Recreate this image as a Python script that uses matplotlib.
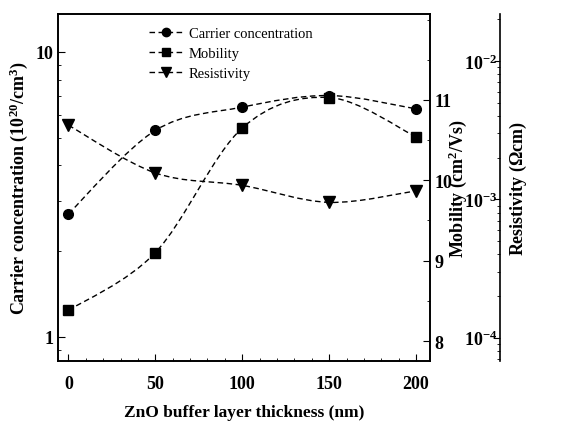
import numpy as np
import matplotlib
matplotlib.use("Agg")
import matplotlib.pyplot as plt
import matplotlib.ticker as ticker
from matplotlib.path import Path
from matplotlib.patches import PathPatch
from matplotlib.lines import Line2D

plt.rcParams['font.family'] = ['Liberation Serif', 'DejaVu Serif']
plt.rcParams['font.weight'] = 'bold'
plt.rcParams['mathtext.fontset'] = 'custom'
plt.rcParams['mathtext.rm'] = 'Liberation Serif:bold'
plt.rcParams['mathtext.it'] = 'Liberation Serif:bold'
plt.rcParams['mathtext.bf'] = 'Liberation Serif:bold'
plt.rcParams['mathtext.default'] = 'rm'
plt.rcParams['axes.linewidth'] = 1.2

# data
thickness = [0, 50, 100, 150, 200]                 # nm
carrier = [2.70, 5.30, 6.40, 7.03, 6.31]           # 1e20 /cm^3
mobility = [8.38, 9.10, 10.65, 11.03, 10.54]       # cm^2/Vs
resistivity = [3.43e-3, 1.55e-3, 1.26e-3, 9.5e-4, 1.15e-3]  # ohm cm

DASH = (0, (4, 2.5))


def smooth_path(x, y, logy=False):
    # Catmull-Rom through the points, drawn as cubic bezier segments
    x = np.asarray(x, float)
    y = np.log10(y) if logy else np.asarray(y, float)
    p = np.column_stack([x, y])
    p = np.vstack([p[0], p, p[-1]])
    verts = [p[1]]
    codes = [Path.MOVETO]
    for i in range(1, len(p) - 2):
        c1 = p[i] + (p[i + 1] - p[i - 1]) / 6.0
        c2 = p[i + 1] - (p[i + 2] - p[i]) / 6.0
        verts += [c1, c2, p[i + 1]]
        codes += [Path.CURVE4] * 3
    verts = np.array(verts)
    if logy:
        verts[:, 1] = 10 ** verts[:, 1]
    return Path(verts, codes)


fig = plt.figure(figsize=(5.76, 4.27), dpi=100)
ax = fig.add_axes([0.1007, 0.152, 0.6458, 0.813])
ax2 = ax.twinx()
ax3 = ax.twinx()

# carrier concentration (left, log)
ax.set_yscale('log')
ax.add_patch(PathPatch(smooth_path(thickness, carrier, True), fill=False,
                       ls=DASH, lw=1, ec='k'))
ax.plot(thickness, carrier, ls='none', marker='o', ms=7, color='k')
ax.set_xlim(-6, 208)
ax.set_ylim(0.82, 13.6)
ax.yaxis.set_major_formatter(ticker.FormatStrFormatter('%g'))
ax.yaxis.set_minor_formatter(ticker.NullFormatter())
ax.xaxis.set_major_locator(ticker.MultipleLocator(50))
ax.xaxis.set_minor_locator(ticker.MultipleLocator(10))
ax.tick_params(which='both', direction='in', top=False, right=False, labelsize=13)
ax.tick_params(which='major', length=5)
ax.tick_params(which='minor', length=2.5)
ax.tick_params(axis='x', pad=10)
ax.set_xlabel('ZnO buffer layer thickness (nm)', fontsize=12.5, fontweight='bold', labelpad=9)
ax.set_ylabel('Carrier concentration (10$^{20}$/cm$^3$)', fontsize=13, fontweight='bold', labelpad=4)

# mobility (right spine of main box, linear)
ax2.add_patch(PathPatch(smooth_path(thickness, mobility), fill=False,
                        ls=DASH, lw=1, ec='k'))
ax2.plot(thickness, mobility, ls='none', marker='s', ms=7, color='k')
ax2.set_ylim(7.75, 12.07)
ax2.yaxis.set_major_locator(ticker.FixedLocator([8, 9, 10, 11]))
ax2.yaxis.set_minor_locator(ticker.MultipleLocator(0.5))
ax2.tick_params(which='both', direction='in', labelsize=13, pad=3)
ax2.tick_params(which='major', length=5)
ax2.tick_params(which='minor', length=2.5)
ax2.set_ylabel('Mobility (cm$^2$/Vs)', fontsize=13, fontweight='bold', labelpad=-4)

# resistivity (outer axis, log)
ax3.set_yscale('log')
ax3.spines['right'].set_position(('axes', 1.188))
for s in ['top', 'left', 'bottom']:
    ax3.spines[s].set_visible(False)
ax3.add_patch(PathPatch(smooth_path(thickness, resistivity, True), fill=False,
                        ls=DASH, lw=1, ec='k'))
ax3.plot(thickness, resistivity, ls='none', marker='v', ms=8, color='k', clip_on=False)
ax3.set_ylim(10 ** -4.17, 10 ** -1.66)
ax3.yaxis.set_major_locator(ticker.LogLocator(base=10))
ax3.yaxis.set_minor_locator(ticker.LogLocator(base=10, subs=np.arange(2, 10)))
ax3.yaxis.set_minor_formatter(ticker.NullFormatter())
ax3.tick_params(which='both', direction='in', labelsize=13, pad=-2)
ax3.tick_params(which='major', length=4)
ax3.tick_params(which='minor', length=2)
ax3.set_ylabel('Resistivity ($\\Omega$cm)', fontsize=13, fontweight='bold', labelpad=6)
fig.canvas.draw()
for lab in ax3.get_yticklabels():
    lab.set_horizontalalignment('right')

handles = [
    Line2D([], [], ls=DASH, lw=1, color='k', marker='o', ms=6),
    Line2D([], [], ls=DASH, lw=1, color='k', marker='s', ms=6),
    Line2D([], [], ls=DASH, lw=1, color='k', marker='v', ms=7),
]
leg = ax3.legend(handles, ['Carrier concentration', 'Mobility', 'Resistivity'],
                 loc='upper left', bbox_to_anchor=(0.21, 1.0), frameon=False,
                 prop={'size': 10.5, 'weight': 'normal'}, handlelength=2.3,
                 handletextpad=0.4, labelspacing=0.45)

fig.savefig('out.png', dpi=100)
